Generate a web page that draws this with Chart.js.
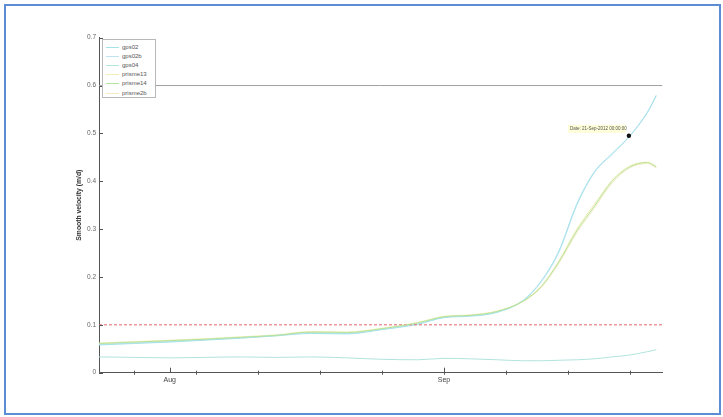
<!DOCTYPE html>
<html>
<head>
<meta charset="utf-8">
<script src="https://cdn.jsdelivr.net/npm/chart.js@4.4.1/dist/chart.umd.min.js"></script>
<style>
  html, body { margin: 0; padding: 0; background: #fff; }
  #wrap { position: relative; width: 723px; height: 417px; overflow: hidden; }
  #frame { position: absolute; left: 4px; top: 4px; width: 713px; height: 407px;
           border: 2px solid #5b8cd4; pointer-events: none; }
  #legend { position: absolute; left: 102px; top: 39px; width: 52px; height: 57px;
            border: 1px solid #b8b8b8; background: #fff;
            font: 6px Arial, "Liberation Sans", sans-serif; color: #555; }
  #legend .row { position: absolute; left: 0; height: 8px; width: 52px; }
  #legend .swatch { position: absolute; left: 3px; top: 4px; width: 13px; height: 1px; }
  #legend .name { position: absolute; left: 19px; top: 0; line-height: 8px; }
</style>
</head>
<body>
<div id="wrap">
  <canvas id="velocityChart" width="723" height="417"></canvas>
  <div id="legend"></div>
  <div id="frame"></div>
</div>
<script>
  'use strict';

  // days counted from 1 Aug 2012
  var days = [-8, -4, 0, 4, 8, 12, 16, 20, 24, 28, 31, 34, 37, 40, 42, 44, 46, 48, 50, 52, 54, 55];

  var gps02 =    [0.058, 0.061, 0.064, 0.068, 0.072, 0.077, 0.082, 0.081, 0.090, 0.101, 0.115, 0.118, 0.126, 0.152, 0.192, 0.255, 0.352, 0.420, 0.458, 0.495, 0.545, 0.580];
  var gps02b =   [0.059, 0.062, 0.065, 0.069, 0.073, 0.078, 0.083, 0.082, 0.091, 0.102, 0.116, 0.119, 0.127, 0.151, 0.190, 0.252, 0.349, 0.418, 0.456, 0.494, 0.543, 0.578];
  var gps04 =    [0.033, 0.032, 0.031, 0.032, 0.033, 0.032, 0.033, 0.031, 0.028, 0.027, 0.030, 0.029, 0.027, 0.025, 0.025, 0.026, 0.027, 0.029, 0.033, 0.037, 0.044, 0.048];
  var prisme13 = [0.062, 0.065, 0.068, 0.071, 0.075, 0.079, 0.086, 0.085, 0.093, 0.105, 0.118, 0.121, 0.129, 0.151, 0.181, 0.234, 0.300, 0.352, 0.402, 0.432, 0.440, 0.431];
  var prisme14 = [0.061, 0.064, 0.067, 0.070, 0.074, 0.078, 0.085, 0.084, 0.092, 0.104, 0.117, 0.120, 0.128, 0.150, 0.180, 0.232, 0.296, 0.348, 0.400, 0.430, 0.439, 0.430];
  var prisme2b = [0.060, 0.063, 0.066, 0.069, 0.073, 0.077, 0.084, 0.083, 0.091, 0.103, 0.116, 0.119, 0.127, 0.149, 0.178, 0.229, 0.292, 0.344, 0.396, 0.428, 0.437, 0.428];

  var seriesNames = ['gps02', 'gps02b', 'gps04', 'prisme13', 'prisme14', 'prisme2b'];
  var seriesValues = [gps02, gps02b, gps04, prisme13, prisme14, prisme2b];
  var seriesColors = ['#a4e2ea', '#bfe3f0', '#b2e3dd', '#f1efb6', '#b6e39a', '#f4eac4'];

  var xMin = -8, xMax = 55.7;
  var monthTicks = [0, 31];
  var monthLabels = ['Aug', 'Sep'];
  var weekTicks = [-4, 3, 10, 17, 24, 31, 38, 45, 52];
  var yTicks = [0, 0.1, 0.2, 0.3, 0.4, 0.5, 0.6, 0.7];

  var upperLimit = 0.6, lowerLimit = 0.1;
  var tipDay = 51.9, tipValue = 0.495, tipText = 'Date: 21-Sep-2012 00:00:00';

  function toPoints(vals) {
    return days.map(function (d, i) { return { x: d, y: vals[i] }; });
  }

  var datasets = seriesNames.map(function (name, i) {
    return {
      label: name,
      data: toPoints(seriesValues[i]),
      borderColor: seriesColors[i],
      borderWidth: 1,
      pointRadius: 0,
      fill: false,
      cubicInterpolationMode: 'monotone',
      order: name === 'prisme14' ? 0 : 1
    };
  });
  datasets.push({
    label: 'limit06',
    data: [{ x: xMin, y: upperLimit }, { x: xMax, y: upperLimit }],
    borderColor: '#a0a0a0', borderWidth: 1, pointRadius: 0
  });
  datasets.push({
    label: 'limit01',
    data: [{ x: xMin, y: lowerLimit }, { x: xMax, y: lowerLimit }],
    borderColor: '#e2666e', borderWidth: 1, borderDash: [3, 2], pointRadius: 0
  });

  // inward tick marks, MATLAB style, plus the data tip
  var axisMarks = {
    id: 'axisMarks',
    afterDatasetsDraw: function (chart) {
      var c = chart.ctx, xs = chart.scales.x, ys = chart.scales.y, a = chart.chartArea;
      c.save();
      c.strokeStyle = '#555';
      c.lineWidth = 1;
      yTicks.forEach(function (v) {
        var py = Math.round(ys.getPixelForValue(v)) + 0.5;
        c.beginPath(); c.moveTo(a.left, py); c.lineTo(a.left + 4, py); c.stroke();
      });
      weekTicks.forEach(function (d) {
        var px = Math.round(xs.getPixelForValue(d)) + 0.5;
        c.beginPath(); c.moveTo(px, a.bottom - 2); c.lineTo(px, a.bottom + 2); c.stroke();
      });
      monthTicks.forEach(function (d) {
        var px = Math.round(xs.getPixelForValue(d)) + 0.5;
        c.beginPath(); c.moveTo(px, a.bottom); c.lineTo(px, a.bottom - 5); c.stroke();
      });

      var tx = xs.getPixelForValue(tipDay), ty = ys.getPixelForValue(tipValue);
      c.fillStyle = 'rgba(255,255,215,0.95)';
      c.fillRect(tx - 61, ty - 11, 58, 8);
      c.fillStyle = '#555';
      c.font = '4.5px Arial, "Liberation Sans", sans-serif';
      c.textBaseline = 'middle';
      c.fillText(tipText, tx - 59, ty - 7);
      c.fillStyle = '#111';
      c.beginPath(); c.arc(tx, ty, 2.2, 0, Math.PI * 2); c.fill();
      c.restore();
    }
  };

  new Chart(document.getElementById('velocityChart'), {
    type: 'line',
    data: { datasets: datasets },
    plugins: [axisMarks],
    options: {
      responsive: false,
      animation: false,
      layout: { padding: { top: 37.7, right: 60.5, bottom: 0, left: 0 } },
      plugins: { legend: { display: false }, tooltip: { enabled: false } },
      scales: {
        x: {
          type: 'linear',
          min: xMin,
          max: xMax,
          afterFit: function (s) { s.height = 44.3; },
          afterBuildTicks: function (s) {
            s.ticks = monthTicks.map(function (v) { return { value: v }; });
          },
          grid: { display: false, drawTicks: false },
          border: { display: true, color: '#555', width: 1 },
          ticks: {
            autoSkip: false,
            maxRotation: 0,
            padding: 3,
            color: '#444',
            font: { size: 7, family: 'Arial, "Liberation Sans", sans-serif' },
            callback: function (v) {
              var i = monthTicks.indexOf(v);
              return i >= 0 ? monthLabels[i] : '';
            }
          }
        },
        y: {
          min: 0,
          max: 0.7,
          afterFit: function (s) { s.width = 99; },
          afterBuildTicks: function (s) {
            s.ticks = yTicks.map(function (v) { return { value: v }; });
          },
          grid: { display: false, drawTicks: false },
          border: { display: true, color: '#555', width: 1 },
          title: {
            display: true,
            text: 'Smooth velocity (m/d)',
            color: '#333',
            font: { size: 6.8, weight: 'bold', family: 'Arial, "Liberation Sans", sans-serif' },
            padding: { top: 75, bottom: 0 }
          },
          ticks: {
            padding: 3,
            color: '#666',
            font: { size: 6.5, family: 'Arial, "Liberation Sans", sans-serif' },
            callback: function (v) { return String(Math.round(v * 10) / 10); }
          }
        }
      }
    }
  });

  // legend box in the upper left of the axes
  var legend = document.getElementById('legend');
  seriesNames.forEach(function (name, i) {
    var row = document.createElement('div');
    row.className = 'row';
    row.style.top = (3 + i * 9.1) + 'px';
    var sw = document.createElement('div');
    sw.className = 'swatch';
    sw.style.background = seriesColors[i];
    var tx = document.createElement('div');
    tx.className = 'name';
    tx.textContent = name;
    row.appendChild(sw);
    row.appendChild(tx);
    legend.appendChild(row);
  });
</script>
</body>
</html>
